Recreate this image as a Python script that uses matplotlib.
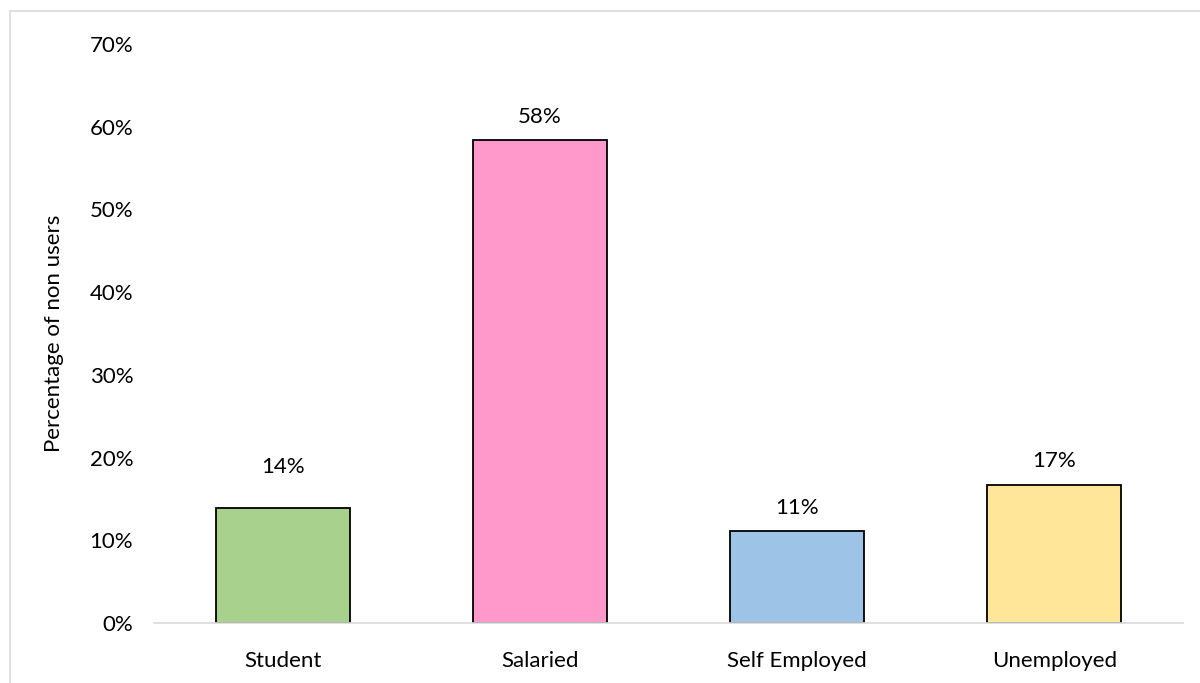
import matplotlib
matplotlib.use("Agg")
import matplotlib.pyplot as plt
import numpy as np
from matplotlib.patches import Rectangle
from matplotlib.ticker import PercentFormatter

categories = ["Student", "Salaried", "Self Employed", "Unemployed"]
shares = [0.139, 0.584, 0.111, 0.167]
bar_colors = ["#a9d18e", "#ff99cc", "#9dc3e6", "#ffe699"]
y_ticks = [0.0, 0.1, 0.2, 0.3, 0.4, 0.5, 0.6, 0.7]

# gap between bar top and its value label (the Student label sits a bit higher)
label_lift = [0.042, 0.021, 0.021, 0.021]

plt.rcParams["font.family"] = ["Lato", "DejaVu Sans"]
FS = 16

fig = plt.figure(figsize=(12, 6.83), dpi=100)
fig.patch.set_facecolor("white")

# thin grey chart frame (runs off the right and bottom edges)
fig.patches.append(Rectangle((10 / 1200, -0.05), 1.2, 1 - 11 / 683 + 0.05,
                             transform=fig.transFigure, fill=False,
                             edgecolor="#d9d9d9", linewidth=1.2))

ax = fig.add_axes([154 / 1200, 1 - 623 / 683, (1183 - 154) / 1200, (623 - 44) / 683])
x = np.arange(len(categories))
bars = ax.bar(x, shares, width=0.52, color=bar_colors, edgecolor="black", linewidth=1.3)

for b, v, lift in zip(bars, shares, label_lift):
    ax.text(b.get_x() + b.get_width() / 2, v + lift, f"{round(v * 100):.0f}%",
            ha="center", va="baseline", fontsize=FS)

ax.set_xlim(-0.5, len(categories) - 0.5)
ax.set_ylim(0, 0.70)
ax.set_yticks(y_ticks)
ax.yaxis.set_major_formatter(PercentFormatter(1.0, decimals=0))
ax.set_xticks(x)
ax.set_xticklabels(categories)
ax.tick_params(axis="both", length=0, labelsize=FS)
ax.tick_params(axis="y", pad=15)
ax.tick_params(axis="x", pad=20)

for side in ["top", "right", "left"]:
    ax.spines[side].set_visible(False)
ax.spines["bottom"].set_color("#d9d9d9")
ax.spines["bottom"].set_linewidth(1.2)

ax.set_ylabel("Percentage of non users", fontsize=FS, labelpad=18)

fig.savefig("out.png", dpi=100)
